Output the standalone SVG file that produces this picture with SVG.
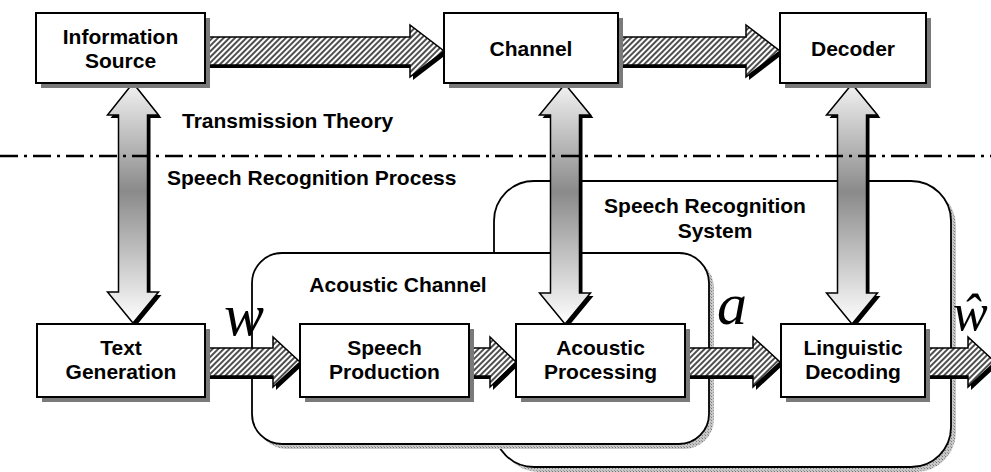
<svg xmlns="http://www.w3.org/2000/svg" width="991" height="472" viewBox="0 0 991 472">
<defs>
<style>
.lbl{font-family:"Liberation Sans",Arial,sans-serif;font-weight:bold;font-size:21px;fill:#000}
.mid{text-anchor:middle}
.sym{font-family:"Liberation Serif","Times New Roman",serif;font-style:italic;fill:#000}
.box{fill:#fff;stroke:#000;stroke-width:2}
.bshadow{fill:#7a7a7a}
.rr{fill:#fff;stroke:#000;stroke-width:1.8}
.rshadow{fill:url(#stip)}
.harrow{fill:url(#hatch);stroke:#000;stroke-width:1.5;stroke-linejoin:miter}
.vshadow{fill:#000}
.varrow{fill:url(#vgrad);stroke:#000;stroke-width:1.5}
</style>
<pattern id="hatch" patternUnits="userSpaceOnUse" width="4" height="4" patternTransform="rotate(45)">
<rect width="4" height="4" fill="#fff"/>
<line x1="1" y1="0" x2="1" y2="4" stroke="#222" stroke-width="1.6"/>
</pattern>
<pattern id="stip" patternUnits="userSpaceOnUse" width="3" height="3">
<rect width="3" height="3" fill="#c8c8c8"/>
<rect width="1" height="1" fill="#777"/>
<rect x="2" y="2" width="1" height="1" fill="#999"/>
</pattern>
<linearGradient id="vgrad" x1="0" y1="0" x2="0" y2="1">
<stop offset="0" stop-color="#f2f2f2"/>
<stop offset="0.45" stop-color="#8a8a8a"/>
<stop offset="1" stop-color="#ffffff"/>
</linearGradient>
</defs>
<rect width="991" height="472" fill="#fff"/>

<g id="speech-recognition-system">
<rect class="rshadow" x="499" y="186" width="457" height="286" rx="40"/>
<rect class="rr" x="494" y="181" width="457" height="286" rx="40"/>
<text class="lbl mid" x="705" y="213">Speech Recognition</text>
<text class="lbl mid" x="715" y="238">System</text>
</g>
<g id="acoustic-channel">
<rect class="rshadow" x="257" y="258" width="457" height="191" rx="30"/>
<rect class="rr" x="252" y="253" width="457" height="191" rx="30"/>
<text class="lbl mid" x="398" y="292">Acoustic Channel</text>
</g>

<g id="connectors">
<g id="h-arrows">
<polygon class="vshadow" transform="translate(3,3)" points="205,37 410,37 410,25 444,51 410,77 410,65 205,65"/>
<polygon class="harrow" points="205,37 410,37 410,25 444,51 410,77 410,65 205,65"/>
<polygon class="vshadow" transform="translate(3,3)" points="618,37 746,37 746,25 780,51 746,77 746,65 618,65"/>
<polygon class="harrow" points="618,37 746,37 746,25 780,51 746,77 746,65 618,65"/>
<polygon class="vshadow" transform="translate(3,3)" points="205,348 273,348 273,337 300,362 273,387 273,376 205,376"/>
<polygon class="harrow" points="205,348 273,348 273,337 300,362 273,387 273,376 205,376"/>
<polygon class="vshadow" transform="translate(3,3)" points="469,348 490,348 490,337 516,362 490,387 490,376 469,376"/>
<polygon class="harrow" points="469,348 490,348 490,337 516,362 490,387 490,376 469,376"/>
<polygon class="vshadow" transform="translate(3,3)" points="685,348 753,348 753,337 780,362 753,387 753,376 685,376"/>
<polygon class="harrow" points="685,348 753,348 753,337 780,362 753,387 753,376 685,376"/>
<polygon class="vshadow" transform="translate(3,3)" points="925,348 968,348 968,337 995,362 968,387 968,376 925,376"/>
<polygon class="harrow" points="925,348 968,348 968,337 995,362 968,387 968,376 925,376"/>
</g>
<g id="v-arrows">
<polygon class="vshadow" transform="translate(3,3)" points="133,83 158.5,115 147.5,115 147.5,292 158.5,292 133,323 107.5,292 118.5,292 118.5,115 107.5,115"/>
<polygon class="varrow" points="133,83 158.5,115 147.5,115 147.5,292 158.5,292 133,323 107.5,292 118.5,292 118.5,115 107.5,115"/>
<polygon class="vshadow" transform="translate(3,3)" points="565,84 590.5,115 579.5,115 579.5,293 590.5,293 565,324 539.5,293 550.5,293 550.5,115 539.5,115"/>
<polygon class="varrow" points="565,84 590.5,115 579.5,115 579.5,293 590.5,293 565,324 539.5,293 550.5,293 550.5,115 539.5,115"/>
<polygon class="vshadow" transform="translate(3,3)" points="852,84 877.5,115 866.5,115 866.5,293 877.5,293 852,324 826.5,293 837.5,293 837.5,115 826.5,115"/>
<polygon class="varrow" points="852,84 877.5,115 866.5,115 866.5,293 877.5,293 852,324 826.5,293 837.5,293 837.5,115 826.5,115"/>
</g>
</g>

<line x1="0" y1="156" x2="991" y2="156" stroke="#000" stroke-width="2.4" stroke-dasharray="18 6 3 6"/>
<text class="lbl" x="182" y="128">Transmission Theory</text>
<text class="lbl" x="167" y="185">Speech Recognition Process</text>

<g id="information-source">
<rect class="bshadow" x="41" y="18" width="169" height="70"/>
<rect class="box" x="36" y="13" width="169" height="70"/>
<text class="lbl mid" x="120.5" y="44">Information</text>
<text class="lbl mid" x="120.5" y="68">Source</text>
</g>
<g id="channel">
<rect class="bshadow" x="449" y="18" width="174" height="70"/>
<rect class="box" x="444" y="13" width="174" height="70"/>
<text class="lbl mid" x="531" y="56">Channel</text>
</g>
<g id="decoder">
<rect class="bshadow" x="785" y="18" width="146" height="70"/>
<rect class="box" x="780" y="13" width="146" height="70"/>
<text class="lbl mid" x="853" y="56">Decoder</text>
</g>
<g id="text-generation">
<rect class="bshadow" x="42" y="329" width="168" height="73"/>
<rect class="box" x="37" y="324" width="168" height="73"/>
<text class="lbl mid" x="121" y="355">Text</text>
<text class="lbl mid" x="121" y="379">Generation</text>
</g>
<g id="speech-production">
<rect class="bshadow" x="305" y="329" width="169" height="73"/>
<rect class="box" x="300" y="324" width="169" height="73"/>
<text class="lbl mid" x="384.5" y="355">Speech</text>
<text class="lbl mid" x="384.5" y="379">Production</text>
</g>
<g id="acoustic-processing">
<rect class="bshadow" x="521" y="329" width="169" height="73"/>
<rect class="box" x="516" y="324" width="169" height="73"/>
<text class="lbl mid" x="600.5" y="355">Acoustic</text>
<text class="lbl mid" x="600.5" y="379">Processing</text>
</g>
<g id="linguistic-decoding">
<rect class="bshadow" x="786" y="329" width="144" height="73"/>
<rect class="box" x="781" y="324" width="144" height="73"/>
<text class="lbl mid" x="853" y="355">Linguistic</text>
<text class="lbl mid" x="853" y="379">Decoding</text>
</g>

<text class="sym" x="224" y="335" font-size="60">w</text>
<text class="sym" x="717" y="324" font-size="60">a</text>
<text class="sym" x="953" y="330" font-size="52">ŵ</text>
</svg>
